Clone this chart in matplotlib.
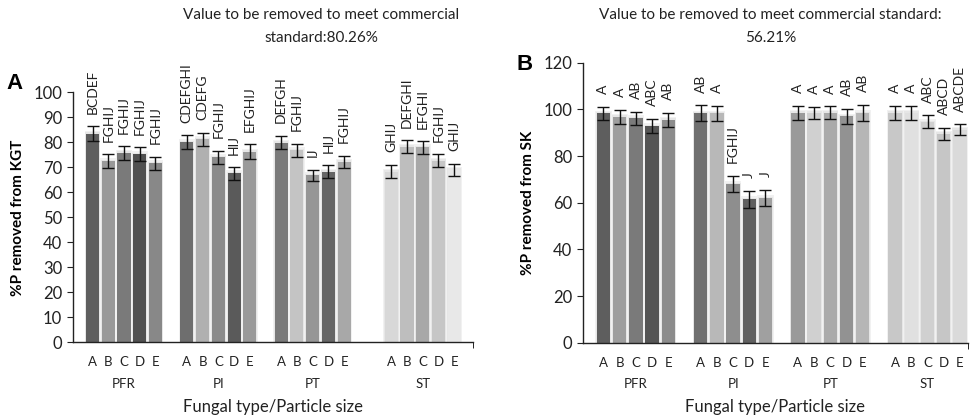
import numpy as np
import matplotlib
matplotlib.use("Agg")
import matplotlib.pyplot as plt

plt.rcParams['font.family'] = ['Lato', 'DejaVu Sans']

groups = ["PFR", "PI", "PT", "ST"]
sizes = ["A", "B", "C", "D", "E"]

# panel A - %P removed from KGT
kgt_vals = [83.5, 72.5, 75.8, 75.2, 71.6,
            80.1, 81.2, 74.1, 67.6, 76.3,
            79.9, 76.9, 66.8, 68.3, 72.2,
            68.3, 78.2, 78.0, 72.6, 69.0]
kgt_err = [3.0, 2.8, 2.7, 2.8, 2.7,
           2.8, 2.7, 2.6, 2.5, 2.9,
           2.7, 2.6, 2.3, 2.6, 2.5,
           2.7, 2.6, 2.5, 2.6, 2.4]
kgt_letters = ["BCDEF", "FGHIJ", "FGHIJ", "FGHIJ", "FGHIJ",
               "CDEFGHI", "CDEFG", "FGHIJ", "HIJ", "EFGHIJ",
               "DEFGH", "FGHIJ", "IJ", "HIJ", "FGHIJ",
               "GHIJ", "DEFGHI", "EFGHI", "FGHIJ", "GHIJ"]
kgt_colors = ["#5e5e5e", "#999999", "#7a7a7a", "#505050", "#888888",
              "#6e6e6e", "#b0b0b0", "#8a8a8a", "#5a5a5a", "#9a9a9a",
              "#7a7a7a", "#c4c4c4", "#969696", "#666666", "#a8a8a8",
              "#d8d8d8", "#bebebe", "#a8a8a8", "#c6c6c6", "#e8e8e8"]

# panel B - %P removed from SK
sk_vals = [98.3, 96.9, 96.2, 92.9, 95.6,
           98.3, 98.3, 68.0, 61.5, 62.0,
           98.5, 98.5, 98.5, 97.0, 98.4,
           98.5, 98.5, 94.6, 89.6, 91.2]
sk_err = [2.8, 3.0, 2.8, 3.0, 3.0,
          3.5, 3.2, 3.6, 3.6, 3.6,
          3.0, 2.6, 2.8, 3.2, 3.6,
          3.0, 3.0, 2.8, 2.6, 2.4]
sk_letters = ["A", "A", "AB", "ABC", "AB",
              "AB", "A", "FGHIJ", "J", "J",
              "A", "A", "A", "AB", "AB",
              "A", "A", "ABC", "ABCD", "ABCDE"]
sk_colors = ["#5e5e5e", "#9e9e9e", "#7a7a7a", "#555555", "#8c8c8c",
             "#707070", "#b8b8b8", "#8e8e8e", "#606060", "#a0a0a0",
             "#9a9a9a", "#d0d0d0", "#aaaaaa", "#929292", "#b6b6b6",
             "#c8c8c8", "#e0e0e0", "#d0d0d0", "#c6c6c6", "#dadada"]

# slot where each group starts
kgt_starts = [0, 6, 12, 19]
sk_starts = [0, 6, 12, 18]


def draw_panel(ax, vals, err, letters, colors, starts, xlim, ymax, ystep, ylabel):
    x = np.concatenate([s + np.arange(5) for s in starts])
    vals = np.array(vals)
    err = np.array(err)
    # soft glow behind bars
    ax.bar(x, vals + 1.2, width=1.0, color="#f1f1f1", zorder=1)
    ax.bar(x, vals + 0.6, width=0.92, color="#e6e6e6", zorder=1)
    ax.bar(x, vals, width=0.83, color=colors, zorder=2)
    ax.errorbar(x, vals, yerr=err, fmt="none", ecolor="#111111",
                elinewidth=1.0, capsize=4, capthick=1.0, zorder=3)
    for xi, v, e, t in zip(x, vals, err, letters):
        ax.annotate(t, (xi, v + e), xytext=(0, 9), textcoords="offset points",
                    rotation=90, ha="center", va="bottom", fontsize=10,
                    color="#222222")
    ax.set_xlim(*xlim)
    ax.set_ylim(0, ymax)
    ax.set_yticks(np.arange(0, ymax + 1, ystep))
    ax.tick_params(axis="y", labelsize=12, direction="out", length=4,
                   colors="#222222")
    ax.set_xticks(x)
    ax.set_xticklabels(sizes * 4, fontsize=9.5, color="#222222")
    ax.tick_params(axis="x", length=0, pad=10)
    ax.set_xticks([xlim[1]], minor=True)
    ax.tick_params(axis="x", which="minor", length=4, direction="out")
    for s in ["top", "right"]:
        ax.spines[s].set_visible(False)
    for s in ["left", "bottom"]:
        ax.spines[s].set_color("#222222")
        ax.spines[s].set_linewidth(1.0)
    for s, g in zip(starts, groups):
        ax.annotate(g, (s + 2, 0), xycoords=("data", "axes fraction"),
                    xytext=(0, -30), textcoords="offset points",
                    ha="center", va="center", fontsize=9.5, color="#222222")
    ax.annotate("Fungal type/Particle size", (0.5, 0), xycoords="axes fraction",
                xytext=(0, -46.5), textcoords="offset points",
                ha="center", va="center", fontsize=12, color="#222222")
    ax.set_ylabel(ylabel, fontsize=11, fontweight="bold", labelpad=6)


fig = plt.figure(figsize=(9.8, 4.19), dpi=100)
ax1 = fig.add_axes([0.0742, 0.1826, 0.4085, 0.5971])
ax2 = fig.add_axes([0.5946, 0.1820, 0.3932, 0.6684])

draw_panel(ax1, kgt_vals, kgt_err, kgt_letters, kgt_colors, kgt_starts,
           (-1.26, 24.2), 100, 10, "%P removed from KGT")
draw_panel(ax2, sk_vals, sk_err, sk_letters, sk_colors, sk_starts,
           (-1.28, 22.5), 120, 20, "%P removed from SK")

fig.text(0.328, 0.98, "Value to be removed to meet commercial\nstandard:80.26%",
         ha="center", va="top", fontsize=11, linespacing=1.75, color="#222222")
fig.text(0.786, 0.98, "Value to be removed to meet commercial standard:\n56.21%",
         ha="center", va="top", fontsize=11, linespacing=1.75, color="#222222")
fig.text(0.007, 0.80, "A", fontsize=16, fontweight="bold",
         family="Liberation Sans", ha="left", va="center")
fig.text(0.527, 0.847, "B", fontsize=16, fontweight="bold",
         family="Liberation Sans", ha="left", va="center")

fig.savefig("out.png", dpi=100)
